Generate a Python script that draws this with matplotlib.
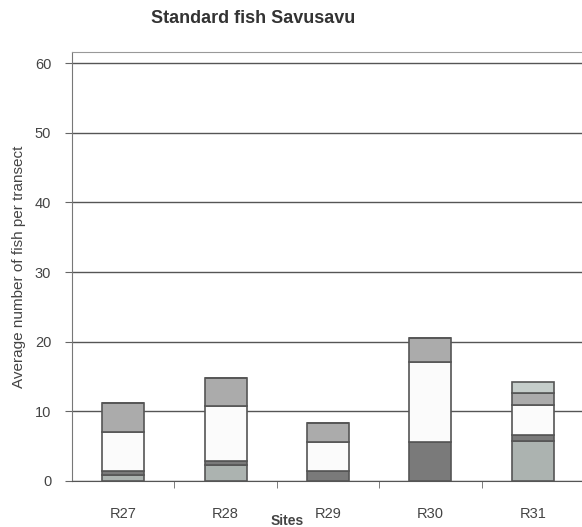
import matplotlib.pyplot as plt
import numpy as np

sites = ["R27", "R28", "R29", "R30", "R31"]
# stacked segments, bottom to top
s1 = [0.8, 2.3, 0.0, 0.0, 5.8]
s2 = [0.6, 0.6, 1.4, 5.6, 0.8]
s3 = [5.6, 7.9, 4.2, 11.5, 4.3]
s4 = [4.2, 4.0, 2.7, 3.4, 1.7]
s5 = [0.0, 0.0, 0.0, 0.0, 1.6]

colors = ["#acb3b0", "#7a7a7a", "#fbfbfb", "#ababab", "#c5cdca"]

plt.rcParams['font.family'] = ['DejaVu Sans Condensed', 'Liberation Sans', 'DejaVu Sans']

fig = plt.figure(figsize=(5.82, 5.27), dpi=100)
ax = fig.add_axes([72/582, 1-481/527, 512/582, (481-52)/527])

x = np.arange(len(sites))
bottom = np.zeros(len(sites))
for vals, c in zip([s1, s2, s3, s4, s5], colors):
    ax.bar(x, vals, width=0.41, bottom=bottom, color=c, edgecolor="#555555",
           linewidth=1.2, zorder=3)
    bottom += np.array(vals)

ax.set_xlim(-0.5, 4.5)
ax.set_ylim(0, 61.6)
ax.set_yticks(range(0, 61, 10))
ax.yaxis.grid(True, color="#555555", linewidth=1.0, zorder=0)
ax.set_xticks(x)
ax.set_xticklabels(sites, fontsize=10.5, color="#444444")
ax.tick_params(axis='x', length=0, pad=19)
ax.set_xticks(x[:-1] + 0.5, minor=True)
ax.tick_params(axis='x', which='minor', length=5, color="#666666")
ax.tick_params(axis='y', labelsize=10.5, labelcolor="#444444", length=5,
               color="#666666", pad=10)

for side in ["top", "right"]:
    ax.spines[side].set_color("#999999")
ax.spines["left"].set_color("#777777")
ax.spines["bottom"].set_color("#555555")

ax.set_ylabel("Average number of fish per transect", fontsize=11, color="#444444", labelpad=6)
fig.text(0.435, 0.965, "Standard fish Savusavu", ha="center", va="center",
         fontsize=13, fontweight="bold", color="#333333", family=["Liberation Sans", "DejaVu Sans"])
fig.text(287/582, 1-521/527, "Sites", ha="center", va="center", fontsize=10,
         fontweight="bold", color="#444444")

fig.savefig("out.png", dpi=100)
